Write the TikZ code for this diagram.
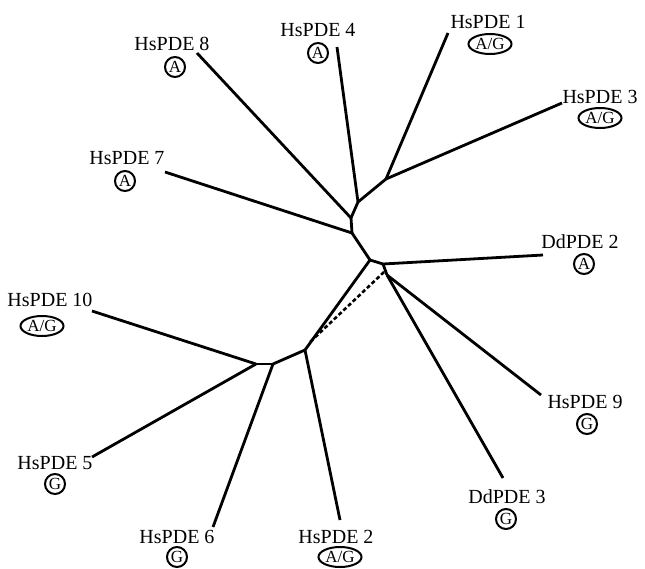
\documentclass[tikz,border=0pt]{standalone}
\usepackage{fontspec}
\setmainfont{Liberation Serif}
\usetikzlibrary{shapes.geometric}
\begin{document}
\begin{tikzpicture}[x=1pt,y=-1pt,
  branch/.style={line width=2.8pt},
  dashbranch/.style={line width=2.6pt,dash pattern=on 4pt off 2.5pt},
  lbl/.style={font=\fontsize{20}{22}\selectfont,inner sep=0pt},
  cbadge/.style={draw,circle,line width=2pt,minimum size=20pt,inner sep=0pt,font=\fontsize{17}{18}\selectfont},
  ebadge/.style={draw,ellipse,line width=2pt,minimum width=43pt,minimum height=20pt,inner sep=0pt,font=\fontsize{17}{18}\selectfont}]
\useasboundingbox (0,0) rectangle (645,568);
% internal nodes
\coordinate (n1) at (386,179);
\coordinate (n2) at (358,202);
\coordinate (n3) at (351,218);
\coordinate (n4) at (352,233);
\coordinate (n5) at (370,260);
\coordinate (n6) at (383,264);
\coordinate (n7) at (387,275);
\coordinate (n8) at (305,350);
\coordinate (n9) at (273,364);
\coordinate (n10) at (256,364);
\coordinate (d1) at (384,272);
\coordinate (d2) at (309,343);
% tip ends
\coordinate (t8) at (197,53);
\coordinate (t4) at (337,47);
\coordinate (t1) at (448,33);
\coordinate (t3) at (562,103);
\coordinate (t7) at (165,172);
\coordinate (td2) at (543,255);
\coordinate (t10) at (92,311);
\coordinate (t9) at (541,395);
\coordinate (t5) at (92,457);
\coordinate (td3) at (503,478);
\coordinate (t6) at (213,527);
\coordinate (t2) at (340,520);
% branches
\draw[branch] (t1) -- (n1);
\draw[branch] (t3) -- (n1);
\draw[branch] (n1) -- (n2);
\draw[branch] (t4) -- (n2);
\draw[branch] (n2) -- (n3);
\draw[branch] (t8) -- (n3);
\draw[branch] (n3) -- (n4);
\draw[branch] (t7) -- (n4);
\draw[branch] (n4) -- (n5);
\draw[branch] (n5) -- (n6);
\draw[branch] (td2) -- (n6);
\draw[branch] (n6) -- (n7);
\draw[branch] (n7) -- (t9);
\draw[branch] (n7) -- (td3);
\draw[branch] (n5) -- (n8);
\draw[branch] (n8) -- (t2);
\draw[branch] (n8) -- (n9);
\draw[branch] (n9) -- (t6);
\draw[branch] (n9) -- (n10);
\draw[branch] (n10) -- (t10);
\draw[branch] (n10) -- (t5);
\draw[dashbranch] (d1) -- (d2);
% labels
\node[lbl] (l8) at (172,44) {HsPDE 8};
\node[cbadge] (b8) at (175,67) {A};
\node[lbl] (l4) at (318,30) {HsPDE 4};
\node[cbadge] (b4) at (318,53) {A};
\node[lbl] (l1) at (488,22) {HsPDE 1};
\node[ebadge] (b1) at (490,44) {A/G};
\node[lbl] (l3) at (600,97) {HsPDE 3};
\node[ebadge] (b3) at (600,118) {A/G};
\node[lbl] (l7) at (127,158) {HsPDE 7};
\node[cbadge] (b7) at (125,181) {A};
\node[lbl] (ld2) at (580,242) {DdPDE 2};
\node[cbadge] (bd2) at (584,264) {A};
\node[lbl] (l10) at (50,300) {HsPDE 10};
\node[ebadge] (b10) at (42,326) {A/G};
\node[lbl] (l9) at (585,402) {HsPDE 9};
\node[cbadge] (b9) at (587,424) {G};
\node[lbl] (l5) at (55,463) {HsPDE 5};
\node[cbadge] (b5) at (55,484) {G};
\node[lbl] (ld3) at (507,497) {DdPDE 3};
\node[cbadge] (bd3) at (506,519) {G};
\node[lbl] (l6) at (177,537) {HsPDE 6};
\node[cbadge] (b6) at (177,557) {G};
\node[lbl] (l2) at (336,537) {HsPDE 2};
\node[ebadge] (b2) at (340,557) {A/G};
\end{tikzpicture}
\end{document}
